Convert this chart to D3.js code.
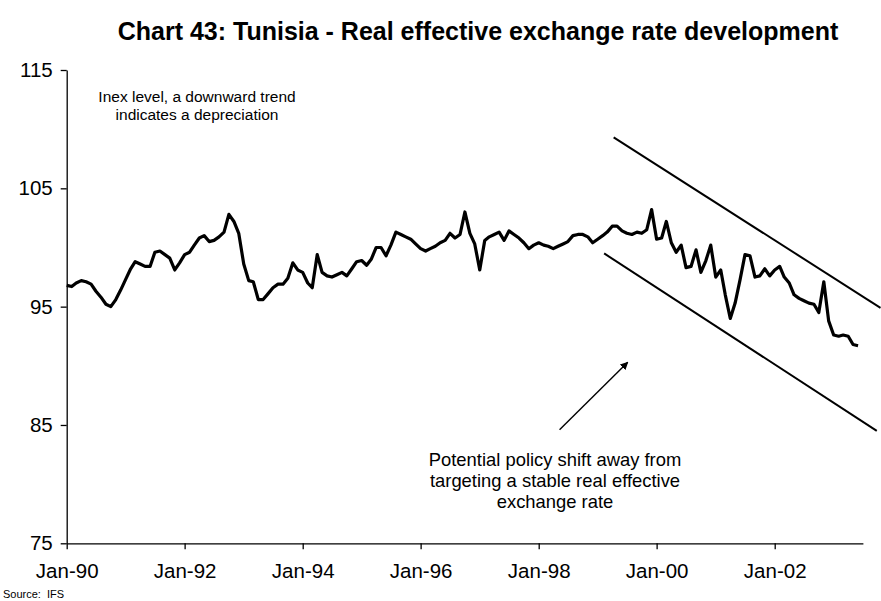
<!DOCTYPE html>
<html>
<head>
<meta charset="utf-8">
<script src="https://cdn.jsdelivr.net/npm/d3@7"></script>
<style>
  html, body { margin: 0; padding: 0; background: #fff; }
  svg { display: block; font-family: "Liberation Sans", Arial, sans-serif; }
</style>
</head>
<body>
<svg id="chart" width="881" height="601"></svg>
<script>
// Monthly real effective exchange rate index, Jan 1990 – Jun 2003
const startMonth = "1990-01";
const reerIndex = [
  96.8, 96.7, 97.0, 97.2, 97.1, 96.9, 96.3, 95.8, 95.2, 95.0, 95.6, 96.4,
  97.3, 98.2, 98.8, 98.6, 98.4, 98.4, 99.6, 99.7, 99.4, 99.1, 98.1, 98.7,
  99.4, 99.6, 100.2, 100.8, 101.0, 100.5, 100.6, 100.9, 101.3, 102.8, 102.2, 101.2,
  98.6, 97.2, 97.1, 95.6, 95.6, 96.1, 96.6, 96.9, 96.9, 97.4, 98.7, 98.1,
  97.9, 97.0, 96.6, 99.4, 97.9, 97.6, 97.5, 97.7, 97.9, 97.6, 98.2, 98.8,
  98.9, 98.5, 99.0, 100.0, 100.0, 99.3, 100.2, 101.3, 101.1, 100.9, 100.7, 100.3,
  99.9, 99.7, 99.9, 100.1, 100.4, 100.6, 101.2, 100.8, 101.1, 103.0, 101.2, 100.3,
  98.1, 100.6, 100.9, 101.1, 101.3, 100.6, 101.4, 101.1, 100.8, 100.4, 99.9, 100.2,
  100.4, 100.2, 100.1, 99.9, 100.1, 100.3, 100.5, 101.0, 101.1, 101.1, 100.9, 100.4,
  100.7, 101.0, 101.3, 101.8, 101.8, 101.4, 101.2, 101.1, 101.3, 101.2, 101.5, 103.2,
  100.7, 100.8, 102.2, 100.4, 99.6, 100.2, 98.3, 98.4, 99.8, 97.9, 98.9, 100.2,
  97.5, 98.1, 96.0, 94.0, 95.3, 97.3, 99.4, 99.3, 97.5, 97.6, 98.2, 97.6,
  98.1, 98.4, 97.5, 97.0, 96.0, 95.7, 95.5, 95.3, 95.2, 94.5, 97.1, 93.8,
  92.6, 92.5, 92.6, 92.5, 91.8, 91.7
];

// Axis ticks
const yTicks = [75, 85, 95, 105, 115];
const xTickDates = ["1990-01-01", "1992-01-01", "1994-01-01", "1996-01-01", "1998-01-01", "2000-01-01", "2002-01-01"];
const xTickLabels = ["Jan-90", "Jan-92", "Jan-94", "Jan-96", "Jan-98", "Jan-00", "Jan-02"];
const xDomain = ["1990-01-01", "2003-07-01"];
const yDomain = [75, 115];

// Channel lines and arrow, given as [date, index value]
const channelUpper = [["1999-04-10", 109.3], ["2003-10-18", 94.9]];
const channelLower = [["1999-02-10", 99.5], ["2003-09-25", 84.5]];
const arrowPath = [["1998-05-10", 84.6], ["1999-07-06", 90.3]];

// Text
const titleText = "Chart 43: Tunisia - Real effective exchange rate development";
const noteLines = ["Inex level, a downward trend", "indicates a depreciation"];
const policyLines = ["Potential policy shift away from", "targeting a stable real effective", "exchange rate"];
const sourceText = "Source:  IFS";

const parse = d3.utcParse("%Y-%m-%d");
const monthStart = d3.utcParse("%Y-%m")(startMonth);
const series = reerIndex.map((v, i) => ({ date: d3.utcMonth.offset(monthStart, i), value: v }));

const svg = d3.select("#chart");
svg.append("rect").attr("width", 881).attr("height", 601).attr("fill", "#fff");

const x = d3.scaleUtc().domain(xDomain.map(parse)).range([66.7, 862.9]);
const y = d3.scaleLinear().domain(yDomain).range([543.3, 70]);

// Title
svg.append("text")
  .attr("x", 478).attr("y", 40)
  .attr("text-anchor", "middle")
  .attr("font-weight", "bold")
  .attr("font-size", 25)
  .text(titleText);

// Y axis
const yAxis = svg.append("g")
  .attr("transform", `translate(${x.range()[0]},0)`)
  .call(d3.axisLeft(y).tickValues(yTicks).tickSize(6).tickSizeOuter(0).tickPadding(8));
yAxis.selectAll("text").attr("font-size", 20.5).attr("fill", "#000").attr("font-family", "Liberation Sans, Arial, sans-serif");

// X axis
const xAxis = svg.append("g")
  .attr("transform", `translate(0,${y(yDomain[0])})`)
  .call(d3.axisBottom(x)
    .tickValues(xTickDates.map(parse))
    .tickFormat((d, i) => xTickLabels[i])
    .tickSize(6).tickSizeOuter(0).tickPadding(14));
xAxis.selectAll("text").attr("font-size", 20.5).attr("fill", "#000").attr("font-family", "Liberation Sans, Arial, sans-serif");

svg.selectAll(".domain, .tick line").attr("stroke", "#000").attr("stroke-width", 1.3);

// Index line
const line = d3.line().x(d => x(d.date)).y(d => y(d.value));
svg.append("path")
  .datum(series)
  .attr("d", line)
  .attr("fill", "none")
  .attr("stroke", "#000")
  .attr("stroke-width", 3.2)
  .attr("stroke-linejoin", "round");

// Downward channel
const ptLine = d3.line().x(d => x(parse(d[0]))).y(d => y(d[1]));
[channelUpper, channelLower].forEach(seg => {
  svg.append("path")
    .attr("d", ptLine(seg))
    .attr("fill", "none")
    .attr("stroke", "#000")
    .attr("stroke-width", 2);
});

// Arrow pointing at the channel
svg.append("defs").append("marker")
  .attr("id", "arrowHead")
  .attr("viewBox", "0 0 10 10")
  .attr("refX", 9).attr("refY", 5)
  .attr("markerWidth", 8).attr("markerHeight", 8)
  .attr("markerUnits", "userSpaceOnUse")
  .attr("orient", "auto")
  .append("path")
  .attr("d", "M0,0 L10,5 L0,10 z")
  .attr("fill", "#000");
svg.append("path")
  .attr("d", ptLine(arrowPath))
  .attr("stroke", "#000")
  .attr("stroke-width", 1.4)
  .attr("fill", "none")
  .attr("marker-end", "url(#arrowHead)");

// Notes
const note = svg.append("text").attr("font-size", 15.5).attr("text-anchor", "middle");
noteLines.forEach((t, i) => note.append("tspan").attr("x", 197).attr("y", 102 + i * 18).text(t));

const policy = svg.append("text").attr("font-size", 18.4).attr("text-anchor", "middle");
policyLines.forEach((t, i) => policy.append("tspan").attr("x", 555).attr("y", 466 + i * 21).text(t));

svg.append("text")
  .attr("x", 3).attr("y", 598)
  .attr("font-size", 11)
  .style("white-space", "pre")
  .text(sourceText);
</script>
</body>
</html>
